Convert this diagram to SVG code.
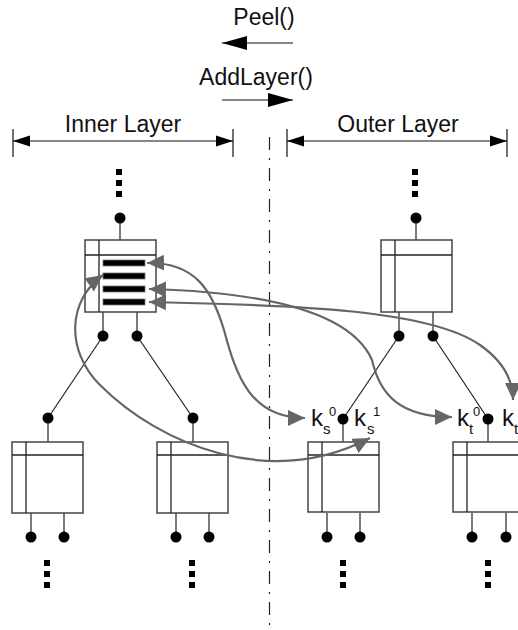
<svg xmlns="http://www.w3.org/2000/svg" width="518" height="630" viewBox="0 0 518 630">
<defs>
<style>
.lbl{font-family:"Liberation Sans",Arial,sans-serif;fill:#111}
.big{font-size:23px}
.k{font-size:24px}
.sub{font-size:15px}
.sup{font-size:13px}
.box{fill:#fff;stroke:#444;stroke-width:1.5}
.in{stroke:#222;stroke-width:1.3;fill:none}
.bar{fill:#000;stroke:#777;stroke-width:0.8}
.wire{stroke:#222;stroke-width:1.2;fill:none}
.dot{fill:#000}
.curve{fill:none;stroke:#666;stroke-width:2.2;marker-start:url(#ga);marker-end:url(#ga)}
.dim{stroke:#111;stroke-width:1.2;fill:none}
</style>
<marker id="ga" markerUnits="userSpaceOnUse" markerWidth="18" markerHeight="18" viewBox="0 0 18 18" refX="17" refY="9" orient="auto-start-reverse">
<path d="M0,1 L17,9 L0,17 Z" fill="#666"/>
</marker>
<marker id="da" markerUnits="userSpaceOnUse" markerWidth="18" markerHeight="12" viewBox="0 0 18 12" refX="17" refY="6" orient="auto-start-reverse">
<path d="M0,0.5 L17,6 L0,11.5 Z" fill="#000"/>
</marker>
<marker id="ba" markerUnits="userSpaceOnUse" markerWidth="26" markerHeight="16" viewBox="0 0 26 16" refX="25" refY="8" orient="auto">
<path d="M0,1 L25,8 L0,15 Z" fill="#000"/>
</marker>
</defs>
<rect width="518" height="630" fill="#fff"/>

<g id="header">
<text class="lbl big" x="264" y="25" text-anchor="middle">Peel()</text>
<line class="dim" x1="293" y1="43" x2="222" y2="43" stroke-width="1.5" marker-end="url(#ba)"/>
<text class="lbl big" x="256" y="85" text-anchor="middle">AddLayer()</text>
<line class="dim" x1="222" y1="100" x2="293" y2="100" stroke-width="1.5" marker-end="url(#ba)"/>
</g>

<g id="inner-layer-dim">
<text class="lbl big" x="123" y="132" text-anchor="middle">Inner Layer</text>
<line class="dim" x1="13" y1="129" x2="13" y2="157" stroke="#555"/>
<line class="dim" x1="233" y1="129" x2="233" y2="157" stroke="#555"/>
<line class="dim" x1="13" y1="141" x2="233" y2="141" marker-start="url(#da)" marker-end="url(#da)"/>
</g>
<g id="outer-layer-dim">
<text class="lbl big" x="398" y="132" text-anchor="middle">Outer Layer</text>
<line class="dim" x1="287" y1="129" x2="287" y2="157" stroke="#555"/>
<line class="dim" x1="507" y1="129" x2="507" y2="157" stroke="#555"/>
<line class="dim" x1="287" y1="141" x2="507" y2="141" marker-start="url(#da)" marker-end="url(#da)"/>
</g>

<line id="divider" x1="269.5" y1="137" x2="269.5" y2="630" stroke="#222" stroke-width="1.2" stroke-dasharray="13 8 2 8"/>

<g id="connectors">
<line class="wire" x1="120" y1="218" x2="120" y2="240" stroke="#555"/>
<line class="wire" x1="416" y1="218" x2="416" y2="240" stroke="#555"/>
<line class="wire" x1="103" y1="312" x2="103" y2="336"/>
<line class="wire" x1="137" y1="312" x2="137" y2="336" stroke="#555"/>
<line class="wire" x1="399" y1="312" x2="399" y2="336"/>
<line class="wire" x1="433" y1="312" x2="433" y2="336" stroke="#555"/>
<line class="wire" x1="103" y1="336" x2="48" y2="418"/>
<line class="wire" x1="137" y1="336" x2="193" y2="418"/>
<line class="wire" x1="399" y1="336" x2="343" y2="419"/>
<line class="wire" x1="433" y1="336" x2="488" y2="419"/>
<line class="wire" x1="48" y1="418" x2="48" y2="442"/>
<line class="wire" x1="193" y1="418" x2="193" y2="442"/>
<line class="wire" x1="343" y1="419" x2="343" y2="442"/>
<line class="wire" x1="488" y1="419" x2="488" y2="442"/>
<line class="wire" x1="31" y1="513" x2="31" y2="537"/>
<line class="wire" x1="64" y1="513" x2="64" y2="537"/>
<line class="wire" x1="176" y1="513" x2="176" y2="537"/>
<line class="wire" x1="209" y1="513" x2="209" y2="537"/>
<line class="wire" x1="327" y1="513" x2="327" y2="537"/>
<line class="wire" x1="360" y1="513" x2="360" y2="537"/>
<line class="wire" x1="472" y1="513" x2="472" y2="537"/>
<line class="wire" x1="506" y1="513" x2="506" y2="537"/>
</g>

<g id="node-inner-top">
<rect class="dot" x="116" y="169" width="6" height="6"/>
<rect class="dot" x="116" y="180" width="6" height="6"/>
<rect class="dot" x="116" y="191" width="6" height="6"/>
<circle class="dot" cx="120" cy="218" r="5.5"/>
<rect class="box" x="85" y="240" width="71" height="72"/>
<line class="in" x1="85" y1="255" x2="156" y2="255"/>
<line class="in" x1="99" y1="240" x2="99" y2="312"/>
<rect class="bar" x="103" y="260" width="42" height="6"/>
<rect class="bar" x="103" y="273" width="42" height="6"/>
<rect class="bar" x="103" y="286" width="42" height="6"/>
<rect class="bar" x="103" y="299" width="42" height="6"/>
<circle class="dot" cx="103" cy="336" r="5.5"/>
<circle class="dot" cx="137" cy="336" r="5.5"/>
</g>

<g id="node-outer-top">
<rect class="dot" x="412" y="169" width="6" height="6"/>
<rect class="dot" x="412" y="180" width="6" height="6"/>
<rect class="dot" x="412" y="191" width="6" height="6"/>
<circle class="dot" cx="416" cy="218" r="5.5"/>
<rect class="box" x="381" y="240" width="71" height="72"/>
<line class="in" x1="381" y1="255" x2="452" y2="255"/>
<line class="in" x1="395" y1="240" x2="395" y2="312"/>
<circle class="dot" cx="399" cy="336" r="5.5"/>
<circle class="dot" cx="433" cy="336" r="5.5"/>
</g>

<g id="node-inner-b1">
<circle class="dot" cx="48" cy="418" r="5.5"/>
<rect class="box" x="12" y="442" width="71" height="71"/>
<line class="in" x1="12" y1="455" x2="83" y2="455"/>
<line class="in" x1="26" y1="442" x2="26" y2="513" stroke="#555"/>
<circle class="dot" cx="31" cy="537" r="5.5"/>
<circle class="dot" cx="64" cy="537" r="5.5"/>
<rect class="dot" x="44" y="560" width="6" height="6"/>
<rect class="dot" x="44" y="571" width="6" height="6"/>
<rect class="dot" x="44" y="582" width="6" height="6"/>
</g>

<g id="node-inner-b2">
<circle class="dot" cx="193" cy="418" r="5.5"/>
<rect class="box" x="157" y="442" width="71" height="71"/>
<line class="in" x1="157" y1="455" x2="228" y2="455"/>
<line class="in" x1="171" y1="442" x2="171" y2="513" stroke="#555"/>
<circle class="dot" cx="176" cy="537" r="5.5"/>
<circle class="dot" cx="209" cy="537" r="5.5"/>
<rect class="dot" x="189" y="560" width="6" height="6"/>
<rect class="dot" x="189" y="571" width="6" height="6"/>
<rect class="dot" x="189" y="582" width="6" height="6"/>
</g>

<g id="node-outer-b3">
<circle class="dot" cx="343" cy="419" r="5.5"/>
<rect class="box" x="308" y="442" width="71" height="70"/>
<line class="in" x1="308" y1="455" x2="379" y2="455"/>
<line class="in" x1="322" y1="442" x2="322" y2="512"/>
<circle class="dot" cx="327" cy="537" r="5.5"/>
<circle class="dot" cx="360" cy="537" r="5.5"/>
<rect class="dot" x="340" y="560" width="6" height="6"/>
<rect class="dot" x="340" y="571" width="6" height="6"/>
<rect class="dot" x="340" y="582" width="6" height="6"/>
<text class="lbl k" x="311" y="426">k</text>
<text class="lbl sub" x="323" y="434">s</text>
<text class="lbl sup" x="329" y="416">0</text>
<text class="lbl k" x="354" y="426">k</text>
<text class="lbl sub" x="367" y="434">s</text>
<text class="lbl sup" x="373" y="416">1</text>
</g>

<g id="node-outer-b4">
<circle class="dot" cx="488" cy="419" r="5.5"/>
<rect class="box" x="453" y="442" width="71" height="70"/>
<line class="in" x1="453" y1="455" x2="524" y2="455"/>
<line class="in" x1="467" y1="442" x2="467" y2="512" stroke="#555"/>
<circle class="dot" cx="472" cy="537" r="5.5"/>
<circle class="dot" cx="506" cy="537" r="5.5"/>
<rect class="dot" x="485" y="560" width="6" height="6"/>
<rect class="dot" x="485" y="571" width="6" height="6"/>
<rect class="dot" x="485" y="582" width="6" height="6"/>
<text class="lbl k" x="457" y="426">k</text>
<text class="lbl sub" x="469" y="434">t</text>
<text class="lbl sup" x="473" y="416">0</text>
<text class="lbl k" x="502" y="426">k</text>
<text class="lbl sub" x="514" y="434">t</text>
</g>

<g id="pointers">
<path class="curve" d="M147 263 C195 262 212 290 224 330 C236 375 250 418 305 418"/>
<path class="curve" d="M103 275 C68 300 65 350 100 385 C160 445 270 490 370 438"/>
<path class="curve" d="M149 289 C260 292 350 310 372 360 C380 395 400 417 452 417"/>
<path class="curve" d="M149 302 C300 305 430 310 480 345 C500 359 513 378 513 400"/>
</g>
</svg>
